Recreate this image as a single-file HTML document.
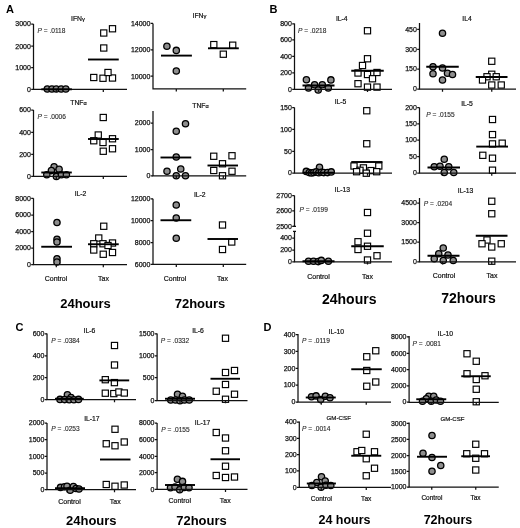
<!DOCTYPE html>
<html lang="en">
<head>
<meta charset="utf-8">
<title>Cytokine production: Control vs Tax</title>
<style>
html,body{margin:0;padding:0;background:#fff;}
body{width:520px;height:528px;overflow:hidden;}
svg{display:block;filter:blur(0.4px);font-family:"Liberation Sans",Arial,Helvetica,sans-serif;}
.ax{fill:none;stroke:#111;stroke-width:1.25;}
.md{fill:none;stroke:#000;stroke-width:1.9;}
.c{fill:#8e8e8e;stroke:#000;stroke-width:1.3;}
.s{fill:#fff;stroke:#000;stroke-width:1.15;}
.tk{font-size:7.0px;fill:#111;text-anchor:end;stroke:#111;stroke-width:0.25;}
.tt{font-size:6.8px;fill:#111;text-anchor:middle;stroke:#111;stroke-width:0.2;}
.pv{font-size:6.6px;fill:#2a2a2a;stroke:#2a2a2a;stroke-width:0.12;}
.xl{font-size:7px;fill:#111;text-anchor:middle;stroke:#111;stroke-width:0.2;}
.pl{font-size:11px;font-weight:bold;fill:#000;}
.bg{font-weight:bold;fill:#000;text-anchor:middle;}
</style>
</head>
<body>
<svg width="520" height="528" viewBox="0 0 520 528">
<rect width="520" height="528" fill="#fff"/>
<g>
<text class="tk" x="30.9" y="26.4">3000</text>
<text class="tk" x="30.9" y="48.5">2000</text>
<text class="tk" x="30.9" y="70.1">1000</text>
<text class="tk" x="30.9" y="91.7">0</text>
<text class="tt" x="78" y="20.5">IFN<tspan font-size="5.9">γ</tspan></text>
<text class="pv" x="37.5" y="33"><tspan font-style="italic">P</tspan> = .0118</text>
<circle class="c" cx="47.3" cy="89" r="3.15"/>
<circle class="c" cx="51.9" cy="89" r="3.15"/>
<circle class="c" cx="56.3" cy="89" r="3.15"/>
<circle class="c" cx="61.2" cy="89" r="3.15"/>
<circle class="c" cx="65.8" cy="89" r="3.15"/>
<rect class="s" x="100.65" y="29.9" width="6.2" height="6.2"/>
<rect class="s" x="109.4" y="25.65" width="6.2" height="6.2"/>
<rect class="s" x="100.65" y="44.9" width="6.2" height="6.2"/>
<rect class="s" x="90.65" y="74.4" width="6.2" height="6.2"/>
<rect class="s" x="99.9" y="75.15" width="6.2" height="6.2"/>
<rect class="s" x="109.4" y="74.9" width="6.2" height="6.2"/>
<rect class="s" x="104.9" y="69.4" width="6.2" height="6.2"/>
<path class="ax" d="M33.5 24V89.3H127"/>
<path class="ax" d="M31.2 24h2.3M31.2 46.1h2.3M31.2 67.7h2.3M31.2 89.3h2.3M56.3 89.3v2.7M103.3 89.3v2.7"/>
<path class="md" d="M41.3 89.3H71.9"/>
<path class="md" d="M88 59.5H118.75"/>
</g>
<g>
<text class="tk" x="150.4" y="25.8">14000</text>
<text class="tk" x="150.4" y="52.2">12000</text>
<text class="tk" x="150.4" y="78.6">10000</text>
<text class="tt" x="199.5" y="18">IFN<tspan font-size="5.9">γ</tspan></text>
<circle class="c" cx="166.9" cy="46.3" r="3.15"/>
<circle class="c" cx="176.3" cy="50.4" r="3.15"/>
<circle class="c" cx="176.3" cy="71" r="3.15"/>
<rect class="s" x="210.7" y="41.5" width="6.2" height="6.2"/>
<rect class="s" x="229.6" y="42.1" width="6.2" height="6.2"/>
<rect class="s" x="220.2" y="51.1" width="6.2" height="6.2"/>
<path class="ax" d="M153 23.4V88.9H246.2"/>
<path class="ax" d="M150.7 23.4h2.3M150.7 49.8h2.3M150.7 76.2h2.3M176.3 88.9v2.7M223.3 88.9v2.7"/>
<path class="md" d="M161 55.6H191.9"/>
<path class="md" d="M208 48.3H238.8"/>
</g>
<g>
<text class="tk" x="30.9" y="112.4">600</text>
<text class="tk" x="30.9" y="134.7">400</text>
<text class="tk" x="30.9" y="156.7">200</text>
<text class="tk" x="30.9" y="178.7">0</text>
<text class="tt" x="78.5" y="105">TNF<tspan font-size="5.6">α</tspan></text>
<text class="pv" x="37.5" y="118.8"><tspan font-style="italic">P</tspan> = .0006</text>
<circle class="c" cx="54.1" cy="166.8" r="3.15"/>
<circle class="c" cx="59.1" cy="169.3" r="3.15"/>
<circle class="c" cx="51.4" cy="170.6" r="3.15"/>
<circle class="c" cx="46.8" cy="174.8" r="3.15"/>
<circle class="c" cx="56.4" cy="176.4" r="3.15"/>
<circle class="c" cx="61.4" cy="174.8" r="3.15"/>
<circle class="c" cx="66.4" cy="174.8" r="3.15"/>
<rect class="s" x="100.15" y="114.4" width="6.2" height="6.2"/>
<rect class="s" x="95.15" y="131.9" width="6.2" height="6.2"/>
<rect class="s" x="90.65" y="137.65" width="6.2" height="6.2"/>
<rect class="s" x="99.9" y="139.4" width="6.2" height="6.2"/>
<rect class="s" x="109.4" y="135.65" width="6.2" height="6.2"/>
<rect class="s" x="109.4" y="145.65" width="6.2" height="6.2"/>
<rect class="s" x="100.15" y="148.15" width="6.2" height="6.2"/>
<path class="ax" d="M33.5 110V176.3H127"/>
<path class="ax" d="M31.2 110h2.3M31.2 132.3h2.3M31.2 154.3h2.3M31.2 176.3h2.3M56.3 176.3v2.7M103.3 176.3v2.7"/>
<path class="md" d="M41.3 172.5H71.8"/>
<path class="md" d="M88 139H118.75"/>
</g>
<g>
<text class="tk" x="150.4" y="125.4">2000</text>
<text class="tk" x="150.4" y="151.9">1000</text>
<text class="tk" x="150.4" y="178.2">0</text>
<text class="tt" x="200.5" y="107.5">TNF<tspan font-size="5.6">α</tspan></text>
<circle class="c" cx="185.5" cy="123.75" r="3.15"/>
<circle class="c" cx="176.25" cy="131.25" r="3.15"/>
<circle class="c" cx="176.25" cy="157" r="3.15"/>
<circle class="c" cx="167" cy="171.25" r="3.15"/>
<circle class="c" cx="180.75" cy="169" r="3.15"/>
<circle class="c" cx="176.25" cy="175.75" r="3.15"/>
<circle class="c" cx="185.5" cy="175.75" r="3.15"/>
<rect class="s" x="210.65" y="153.15" width="6.2" height="6.2"/>
<rect class="s" x="228.9" y="152.65" width="6.2" height="6.2"/>
<rect class="s" x="219.4" y="160.65" width="6.2" height="6.2"/>
<rect class="s" x="210.65" y="167.4" width="6.2" height="6.2"/>
<rect class="s" x="228.9" y="168.15" width="6.2" height="6.2"/>
<rect class="s" x="219.4" y="172.65" width="6.2" height="6.2"/>
<path class="ax" d="M153 111V175.8H246.2"/>
<path class="ax" d="M150.7 123h2.3M150.7 149.5h2.3M150.7 175.8h2.3M176.3 175.8v2.7M223.3 175.8v2.7"/>
<path class="md" d="M160.5 157.5H191.25"/>
<path class="md" d="M207.5 165.5H238"/>
</g>
<g>
<text class="tk" x="30.9" y="200.7">8000</text>
<text class="tk" x="30.9" y="217.4">6000</text>
<text class="tk" x="30.9" y="234">4000</text>
<text class="tk" x="30.9" y="250.4">2000</text>
<text class="tk" x="30.9" y="266.9">0</text>
<text class="tt" x="80.5" y="196">IL-2</text>
<circle class="c" cx="57" cy="222.5" r="3.15"/>
<circle class="c" cx="57" cy="239.25" r="3.15"/>
<circle class="c" cx="57" cy="242" r="3.15"/>
<circle class="c" cx="57" cy="258.75" r="3.15"/>
<circle class="c" cx="57" cy="262" r="3.15"/>
<rect class="s" x="100.65" y="223.15" width="6.2" height="6.2"/>
<rect class="s" x="95.65" y="234.9" width="6.2" height="6.2"/>
<rect class="s" x="90.65" y="240.65" width="6.2" height="6.2"/>
<rect class="s" x="99.9" y="240.65" width="6.2" height="6.2"/>
<rect class="s" x="109.4" y="239.9" width="6.2" height="6.2"/>
<rect class="s" x="104.9" y="242.4" width="6.2" height="6.2"/>
<rect class="s" x="90.65" y="246.9" width="6.2" height="6.2"/>
<rect class="s" x="100.15" y="251.15" width="6.2" height="6.2"/>
<rect class="s" x="109.4" y="249.4" width="6.2" height="6.2"/>
<path class="ax" d="M33.5 198.3V264.5H127"/>
<path class="ax" d="M31.2 198.3h2.3M31.2 215h2.3M31.2 231.6h2.3M31.2 248h2.3M31.2 264.5h2.3M56.3 264.5v2.7M103.3 264.5v2.7"/>
<path class="md" d="M41.25 246.75H72"/>
<path class="md" d="M88 244.25H118.75"/>
<text class="xl" x="56" y="281.2">Control</text>
<text class="xl" x="103.5" y="281.2">Tax</text>
</g>
<g>
<text class="tk" x="150.4" y="201.15">12000</text>
<text class="tk" x="150.4" y="222.9">10000</text>
<text class="tk" x="150.4" y="244.9">8000</text>
<text class="tk" x="150.4" y="266.65">6000</text>
<text class="tt" x="199.75" y="197">IL-2</text>
<circle class="c" cx="176.25" cy="205" r="3.15"/>
<circle class="c" cx="176.25" cy="218" r="3.15"/>
<circle class="c" cx="176.25" cy="238.25" r="3.15"/>
<rect class="s" x="219.4" y="221.9" width="6.2" height="6.2"/>
<rect class="s" x="228.65" y="238.9" width="6.2" height="6.2"/>
<rect class="s" x="219.4" y="246.4" width="6.2" height="6.2"/>
<path class="ax" d="M153 198.75V264.25H246.2"/>
<path class="ax" d="M150.7 198.75h2.3M150.7 220.5h2.3M150.7 242.5h2.3M150.7 264.25h2.3M176.3 264.25v2.7M223.3 264.25v2.7"/>
<path class="md" d="M160.5 220.25H191.25"/>
<path class="md" d="M207.5 239H238"/>
<text class="xl" x="175" y="281.2">Control</text>
<text class="xl" x="222.5" y="281.2">Tax</text>
</g>
<g>
<text class="tk" x="291.9" y="26.15">800</text>
<text class="tk" x="291.9" y="42.15">600</text>
<text class="tk" x="291.9" y="58.65">400</text>
<text class="tk" x="291.9" y="75.15">200</text>
<text class="tk" x="291.9" y="91.65">0</text>
<text class="tt" x="341.75" y="20.5">IL-4</text>
<text class="pv" x="298" y="33"><tspan font-style="italic">P</tspan> = .0218</text>
<circle class="c" cx="306.4" cy="79.8" r="3.15"/>
<circle class="c" cx="330.9" cy="79.9" r="3.15"/>
<circle class="c" cx="308.5" cy="88" r="3.15"/>
<circle class="c" cx="314.6" cy="84.8" r="3.15"/>
<circle class="c" cx="318.2" cy="90" r="3.15"/>
<circle class="c" cx="322.3" cy="84.8" r="3.15"/>
<circle class="c" cx="328.3" cy="88" r="3.15"/>
<rect class="s" x="364.4" y="27.65" width="6.2" height="6.2"/>
<rect class="s" x="364.4" y="55.65" width="6.2" height="6.2"/>
<rect class="s" x="359.4" y="62.4" width="6.2" height="6.2"/>
<rect class="s" x="354.9" y="69.9" width="6.2" height="6.2"/>
<rect class="s" x="364.4" y="71.4" width="6.2" height="6.2"/>
<rect class="s" x="373.9" y="69.4" width="6.2" height="6.2"/>
<rect class="s" x="369.4" y="75.65" width="6.2" height="6.2"/>
<rect class="s" x="354.9" y="80.6" width="6.2" height="6.2"/>
<rect class="s" x="364.4" y="84" width="6.2" height="6.2"/>
<rect class="s" x="373.9" y="84" width="6.2" height="6.2"/>
<path class="ax" d="M294.5 23.5V89.25H392"/>
<path class="ax" d="M292.2 23.75h2.3M292.2 39.75h2.3M292.2 56.25h2.3M292.2 72.75h2.3M292.2 89.25h2.3M318.75 89.25v2.7M367.5 89.25v2.7"/>
<path class="md" d="M302.5 85.5H334.5"/>
<path class="md" d="M351.25 70.75H383.75"/>
</g>
<g>
<text class="tk" x="416.9" y="31.65">450</text>
<text class="tk" x="416.9" y="51.65">300</text>
<text class="tk" x="416.9" y="71.4">150</text>
<text class="tk" x="416.9" y="91.4">0</text>
<text class="tt" x="467" y="21.25">IL4</text>
<circle class="c" cx="442.5" cy="33.25" r="3.15"/>
<circle class="c" cx="433" cy="66.75" r="3.15"/>
<circle class="c" cx="442.5" cy="68" r="3.15"/>
<circle class="c" cx="433" cy="73.75" r="3.15"/>
<circle class="c" cx="447.5" cy="73.25" r="3.15"/>
<circle class="c" cx="452.5" cy="74.5" r="3.15"/>
<circle class="c" cx="442.5" cy="80" r="3.15"/>
<rect class="s" x="488.65" y="58.15" width="6.2" height="6.2"/>
<rect class="s" x="488.65" y="71.15" width="6.2" height="6.2"/>
<rect class="s" x="483.9" y="73.65" width="6.2" height="6.2"/>
<rect class="s" x="493.15" y="73.65" width="6.2" height="6.2"/>
<rect class="s" x="479.4" y="76.9" width="6.2" height="6.2"/>
<rect class="s" x="488.65" y="81.9" width="6.2" height="6.2"/>
<rect class="s" x="498.15" y="81.9" width="6.2" height="6.2"/>
<path class="ax" d="M419.5 23V89H516"/>
<path class="ax" d="M417.2 29.25h2.3M417.2 49.25h2.3M417.2 69h2.3M417.2 89h2.3M442.5 89v2.7M491.75 89v2.7"/>
<path class="md" d="M426.25 66.75H458.75"/>
<path class="md" d="M475.75 77H507.5"/>
</g>
<g>
<text class="tk" x="291.9" y="109.9">150</text>
<text class="tk" x="291.9" y="131.65">100</text>
<text class="tk" x="291.9" y="153.65">50</text>
<text class="tk" x="291.9" y="175.4">0</text>
<text class="tt" x="340.5" y="103.75">IL-5</text>
<circle class="c" cx="319.5" cy="167.2" r="3.15"/>
<circle class="c" cx="306.25" cy="171.4" r="3.15"/>
<circle class="c" cx="309.25" cy="172.6" r="3.15"/>
<circle class="c" cx="311.6" cy="172.9" r="3.15"/>
<circle class="c" cx="313.75" cy="172.5" r="3.15"/>
<circle class="c" cx="316.2" cy="171.9" r="3.15"/>
<circle class="c" cx="318.75" cy="172.7" r="3.15"/>
<circle class="c" cx="321.4" cy="172.3" r="3.15"/>
<circle class="c" cx="323.75" cy="172.6" r="3.15"/>
<circle class="c" cx="327.5" cy="172.6" r="3.15"/>
<circle class="c" cx="331.25" cy="171.9" r="3.15"/>
<rect class="s" x="363.65" y="107.65" width="6.2" height="6.2"/>
<rect class="s" x="363.65" y="140.65" width="6.2" height="6.2"/>
<rect class="s" x="350.9" y="162.9" width="6.2" height="6.2"/>
<rect class="s" x="375.7" y="162.9" width="6.2" height="6.2"/>
<rect class="s" x="360.3" y="164.8" width="6.2" height="6.2"/>
<rect class="s" x="356.9" y="167.2" width="6.2" height="6.2"/>
<rect class="s" x="367.9" y="167.5" width="6.2" height="6.2"/>
<rect class="s" x="353.5" y="168.6" width="6.2" height="6.2"/>
<rect class="s" x="363.2" y="170.1" width="6.2" height="6.2"/>
<rect class="s" x="373.6" y="168.6" width="6.2" height="6.2"/>
<path class="ax" d="M294.5 107.5V173H392"/>
<path class="ax" d="M292.2 107.5h2.3M292.2 129.25h2.3M292.2 151.25h2.3M292.2 173h2.3M318.75 173v2.7M367.5 173v2.7"/>
<path class="md" d="M302.5 172.6H334.5"/>
<path class="md" d="M351.25 162H382.5"/>
</g>
<g>
<text class="tk" x="416.9" y="109.9">200</text>
<text class="tk" x="416.9" y="126.15">150</text>
<text class="tk" x="416.9" y="142.4">100</text>
<text class="tk" x="416.9" y="159">50</text>
<text class="tk" x="416.9" y="175.4">0</text>
<text class="tt" x="467" y="106.25">IL-5</text>
<text class="pv" x="426.25" y="117"><tspan font-style="italic">P</tspan> = .0155</text>
<circle class="c" cx="444.25" cy="159.25" r="3.15"/>
<circle class="c" cx="434.25" cy="166.75" r="3.15"/>
<circle class="c" cx="440" cy="166.25" r="3.15"/>
<circle class="c" cx="448.75" cy="166.75" r="3.15"/>
<circle class="c" cx="444.25" cy="172.5" r="3.15"/>
<circle class="c" cx="453.75" cy="172.5" r="3.15"/>
<rect class="s" x="489.4" y="116.4" width="6.2" height="6.2"/>
<rect class="s" x="489.4" y="131.5" width="6.2" height="6.2"/>
<rect class="s" x="489.4" y="140.8" width="6.2" height="6.2"/>
<rect class="s" x="499.1" y="140.1" width="6.2" height="6.2"/>
<rect class="s" x="479.7" y="152.2" width="6.2" height="6.2"/>
<rect class="s" x="489.4" y="155.1" width="6.2" height="6.2"/>
<rect class="s" x="489.4" y="167.1" width="6.2" height="6.2"/>
<path class="ax" d="M419.5 107.5V173H516"/>
<path class="ax" d="M417.2 107.5h2.3M417.2 123.75h2.3M417.2 140h2.3M417.2 156.6h2.3M417.2 173h2.3M442.5 173v2.7M491.75 173v2.7"/>
<path class="md" d="M427.5 167.5H460"/>
<path class="md" d="M476.25 146.6H508"/>
</g>
<g>
<text class="tk" x="291.9" y="197.9">2700</text>
<text class="tk" x="291.9" y="213.15">2600</text>
<text class="tk" x="291.9" y="228.65">2500</text>
<text class="tk" x="291.9" y="240.4">400</text>
<text class="tk" x="291.9" y="252.4">200</text>
<text class="tk" x="291.9" y="264.15">0</text>
<text class="tt" x="342.25" y="192">IL-13</text>
<text class="pv" x="299.5" y="212"><tspan font-style="italic">P</tspan> = .0199</text>
<circle class="c" cx="308.5" cy="261.3" r="3.15"/>
<circle class="c" cx="313.5" cy="261.3" r="3.15"/>
<circle class="c" cx="318.2" cy="261.6" r="3.15"/>
<circle class="c" cx="321.3" cy="260.4" r="3.15"/>
<circle class="c" cx="328.4" cy="261.3" r="3.15"/>
<rect class="s" x="364.4" y="209.4" width="6.2" height="6.2"/>
<rect class="s" x="364.4" y="230.15" width="6.2" height="6.2"/>
<rect class="s" x="354.9" y="238.65" width="6.2" height="6.2"/>
<rect class="s" x="354.9" y="246.4" width="6.2" height="6.2"/>
<rect class="s" x="364.4" y="243.15" width="6.2" height="6.2"/>
<rect class="s" x="373.9" y="252.65" width="6.2" height="6.2"/>
<rect class="s" x="364.4" y="256.9" width="6.2" height="6.2"/>
<path class="ax" d="M294.5 195.5V226.25M294.5 231.25V261.75H392"/>
<path class="ax" d="M293 226.25h3M293 231.25h3"/>
<path class="ax" d="M292.2 195.5h2.3M292.2 210.75h2.3M292.2 226.25h2.3M292.2 238h2.3M292.2 250h2.3M292.2 261.75h2.3M318.75 261.75v2.7M367.5 261.75v2.7"/>
<path class="md" d="M302.5 261.25H334.5"/>
<path class="md" d="M351.25 246.25H383.75"/>
<text class="xl" x="318.5" y="278.8">Control</text>
<text class="xl" x="367.5" y="278.8">Tax</text>
</g>
<g>
<text class="tk" x="416.9" y="205.4">4500</text>
<text class="tk" x="416.9" y="224.9">3000</text>
<text class="tk" x="416.9" y="244.4">1500</text>
<text class="tk" x="416.9" y="264.15">0</text>
<text class="tt" x="465.6" y="193.25">IL-13</text>
<text class="pv" x="423.75" y="206.25"><tspan font-style="italic">P</tspan> = .0204</text>
<circle class="c" cx="443.25" cy="248" r="3.15"/>
<circle class="c" cx="438.75" cy="253.75" r="3.15"/>
<circle class="c" cx="448" cy="255" r="3.15"/>
<circle class="c" cx="434.25" cy="258.75" r="3.15"/>
<circle class="c" cx="443.25" cy="260.5" r="3.15"/>
<circle class="c" cx="453.25" cy="260.5" r="3.15"/>
<rect class="s" x="488.65" y="198.15" width="6.2" height="6.2"/>
<rect class="s" x="488.65" y="210.65" width="6.2" height="6.2"/>
<rect class="s" x="483.9" y="236.9" width="6.2" height="6.2"/>
<rect class="s" x="478.9" y="240.65" width="6.2" height="6.2"/>
<rect class="s" x="498.15" y="240.65" width="6.2" height="6.2"/>
<rect class="s" x="488.65" y="243.9" width="6.2" height="6.2"/>
<rect class="s" x="488.65" y="258.1" width="6.2" height="6.2"/>
<path class="ax" d="M419.5 198V261.75H516"/>
<path class="ax" d="M417.2 203h2.3M417.2 222.5h2.3M417.2 242h2.3M417.2 261.75h2.3M442.5 261.75v2.7M491.75 261.75v2.7"/>
<path class="md" d="M427.5 255.75H459.5"/>
<path class="md" d="M475.75 235.75H507.5"/>
<text class="xl" x="444" y="277.5">Control</text>
<text class="xl" x="492" y="277.5">Tax</text>
</g>
<g>
<text class="tk" x="44.4" y="336.15">600</text>
<text class="tk" x="44.4" y="358.15">400</text>
<text class="tk" x="44.4" y="379.9">200</text>
<text class="tk" x="44.4" y="401.9">0</text>
<text class="tt" x="89.4" y="333">IL-6</text>
<text class="pv" x="51.25" y="343"><tspan font-style="italic">P</tspan> = .0384</text>
<circle class="c" cx="67.4" cy="394.8" r="3.15"/>
<circle class="c" cx="71" cy="397.5" r="3.15"/>
<circle class="c" cx="60" cy="399.4" r="3.15"/>
<circle class="c" cx="64.6" cy="399.6" r="3.15"/>
<circle class="c" cx="69.2" cy="399.8" r="3.15"/>
<circle class="c" cx="73.9" cy="399.8" r="3.15"/>
<circle class="c" cx="78.5" cy="399.4" r="3.15"/>
<rect class="s" x="111.4" y="342.4" width="6.2" height="6.2"/>
<rect class="s" x="111.4" y="361.9" width="6.2" height="6.2"/>
<rect class="s" x="102.2" y="376.6" width="6.2" height="6.2"/>
<rect class="s" x="111.3" y="379.5" width="6.2" height="6.2"/>
<rect class="s" x="102.2" y="390.1" width="6.2" height="6.2"/>
<rect class="s" x="110.7" y="390.5" width="6.2" height="6.2"/>
<rect class="s" x="115.8" y="388.9" width="6.2" height="6.2"/>
<rect class="s" x="121.2" y="389.9" width="6.2" height="6.2"/>
<path class="ax" d="M47 333.5V399.5H136"/>
<path class="ax" d="M44.7 333.75h2.3M44.7 355.75h2.3M44.7 377.5h2.3M44.7 399.5h2.3M67 399.5v2.7M114.5 399.5v2.7"/>
<path class="md" d="M55 398.75H83.75"/>
<path class="md" d="M99.4 380.4H129.2"/>
</g>
<g>
<text class="tk" x="154.5" y="336.15">1500</text>
<text class="tk" x="154.5" y="358.15">1000</text>
<text class="tk" x="154.5" y="379.9">500</text>
<text class="tk" x="154.5" y="402.9">0</text>
<text class="tt" x="198" y="333">IL-6</text>
<text class="pv" x="160.75" y="343"><tspan font-style="italic">P</tspan> = .0332</text>
<circle class="c" cx="177.5" cy="394.25" r="3.15"/>
<circle class="c" cx="182.5" cy="396.25" r="3.15"/>
<circle class="c" cx="170.75" cy="400" r="3.15"/>
<circle class="c" cx="175.5" cy="400" r="3.15"/>
<circle class="c" cx="180" cy="400.75" r="3.15"/>
<circle class="c" cx="184.5" cy="400" r="3.15"/>
<circle class="c" cx="189.25" cy="400" r="3.15"/>
<rect class="s" x="222.4" y="335.15" width="6.2" height="6.2"/>
<rect class="s" x="222.4" y="369.4" width="6.2" height="6.2"/>
<rect class="s" x="231.4" y="367.4" width="6.2" height="6.2"/>
<rect class="s" x="222.4" y="381.4" width="6.2" height="6.2"/>
<rect class="s" x="213.15" y="388.15" width="6.2" height="6.2"/>
<rect class="s" x="231.4" y="391.15" width="6.2" height="6.2"/>
<rect class="s" x="222.4" y="396.15" width="6.2" height="6.2"/>
<path class="ax" d="M157.1 333.5V400.5H247.5"/>
<path class="ax" d="M154.8 333.75h2.3M154.8 355.75h2.3M154.8 377.5h2.3M154.8 400.5h2.3M180 400.5v2.7M225.5 400.5v2.7"/>
<path class="md" d="M165 398.75H195"/>
<path class="md" d="M210.5 378.75H240"/>
</g>
<g>
<text class="tk" x="44.4" y="425.4">2000</text>
<text class="tk" x="44.4" y="441.9">1500</text>
<text class="tk" x="44.4" y="458.65">1000</text>
<text class="tk" x="44.4" y="475.4">500</text>
<text class="tk" x="44.4" y="491.9">0</text>
<text class="tt" x="91.9" y="420.75">IL-17</text>
<text class="pv" x="51.25" y="431.25"><tspan font-style="italic">P</tspan> = .0253</text>
<circle class="c" cx="60.5" cy="487.4" r="3.15"/>
<circle class="c" cx="64.5" cy="486.8" r="3.15"/>
<circle class="c" cx="67" cy="486.2" r="3.15"/>
<circle class="c" cx="70.2" cy="490.2" r="3.15"/>
<circle class="c" cx="73.4" cy="486.5" r="3.15"/>
<circle class="c" cx="76" cy="488.5" r="3.15"/>
<circle class="c" cx="79" cy="489" r="3.15"/>
<rect class="s" x="111.9" y="426.15" width="6.2" height="6.2"/>
<rect class="s" x="103.15" y="440.65" width="6.2" height="6.2"/>
<rect class="s" x="111.9" y="442.65" width="6.2" height="6.2"/>
<rect class="s" x="121.15" y="438.9" width="6.2" height="6.2"/>
<rect class="s" x="103.15" y="481.4" width="6.2" height="6.2"/>
<rect class="s" x="111.9" y="483.15" width="6.2" height="6.2"/>
<rect class="s" x="121.15" y="481.9" width="6.2" height="6.2"/>
<path class="ax" d="M47 423V489.5H136"/>
<path class="ax" d="M44.7 423h2.3M44.7 439.5h2.3M44.7 456.25h2.3M44.7 473h2.3M44.7 489.5h2.3M67 489.5v2.7M114.5 489.5v2.7"/>
<path class="md" d="M55 488.2H85"/>
<path class="md" d="M100 459.5H130.5"/>
<text class="xl" x="69.5" y="503.7">Control</text>
<text class="xl" x="115.25" y="503.7">Tax</text>
</g>
<g>
<text class="tk" x="154.5" y="425.4">8000</text>
<text class="tk" x="154.5" y="441.9">6000</text>
<text class="tk" x="154.5" y="458.65">4000</text>
<text class="tk" x="154.5" y="474.9">2000</text>
<text class="tk" x="154.5" y="491.65">0</text>
<text class="tt" x="202.5" y="424.5">IL-17</text>
<text class="pv" x="161.25" y="431.75"><tspan font-style="italic">P</tspan> = .0155</text>
<circle class="c" cx="177.4" cy="479.2" r="3.15"/>
<circle class="c" cx="182.5" cy="481.4" r="3.15"/>
<circle class="c" cx="170.5" cy="487.8" r="3.15"/>
<circle class="c" cx="175" cy="487" r="3.15"/>
<circle class="c" cx="179.7" cy="489.7" r="3.15"/>
<circle class="c" cx="184.3" cy="487.4" r="3.15"/>
<circle class="c" cx="189" cy="487.8" r="3.15"/>
<rect class="s" x="213.15" y="429.4" width="6.2" height="6.2"/>
<rect class="s" x="222.4" y="434.9" width="6.2" height="6.2"/>
<rect class="s" x="222.4" y="447.65" width="6.2" height="6.2"/>
<rect class="s" x="222.4" y="463.15" width="6.2" height="6.2"/>
<rect class="s" x="213.15" y="472.4" width="6.2" height="6.2"/>
<rect class="s" x="222.4" y="474.4" width="6.2" height="6.2"/>
<rect class="s" x="231.4" y="473.9" width="6.2" height="6.2"/>
<path class="ax" d="M157.1 423V489.25H247.5"/>
<path class="ax" d="M154.8 423h2.3M154.8 439.5h2.3M154.8 456.25h2.3M154.8 472.5h2.3M154.8 489.25h2.3M180 489.25v2.7M225.5 489.25v2.7"/>
<path class="md" d="M165 485H195"/>
<path class="md" d="M210.5 459.25H240"/>
<text class="xl" x="179.75" y="502.5">Control</text>
<text class="xl" x="225.25" y="502.5">Tax</text>
</g>
<g>
<text class="tk" x="295.4" y="336.9">400</text>
<text class="tk" x="295.4" y="353.65">300</text>
<text class="tk" x="295.4" y="370.65">200</text>
<text class="tk" x="295.4" y="387.4">100</text>
<text class="tk" x="295.4" y="404.4">0</text>
<text class="tt" x="336.25" y="333.75">IL-10</text>
<text class="pv" x="302" y="343.25"><tspan font-style="italic">P</tspan> = .0119</text>
<circle class="c" cx="311.5" cy="396.7" r="3.15"/>
<circle class="c" cx="316.1" cy="395.9" r="3.15"/>
<circle class="c" cx="320.7" cy="399.6" r="3.15"/>
<circle class="c" cx="325.3" cy="396.2" r="3.15"/>
<circle class="c" cx="330" cy="397.8" r="3.15"/>
<rect class="s" x="372.65" y="347.65" width="6.2" height="6.2"/>
<rect class="s" x="363.65" y="353.65" width="6.2" height="6.2"/>
<rect class="s" x="363.65" y="367.4" width="6.2" height="6.2"/>
<rect class="s" x="372.65" y="378.9" width="6.2" height="6.2"/>
<rect class="s" x="363.65" y="383.15" width="6.2" height="6.2"/>
<path class="ax" d="M298 334V402H391"/>
<path class="ax" d="M295.7 334.5h2.3M295.7 351.25h2.3M295.7 368.25h2.3M295.7 385h2.3M295.7 402h2.3M321.25 402v2.7M366.25 402v2.7"/>
<path class="md" d="M305.75 397.5H335.75"/>
<path class="md" d="M351.25 369.25H381.75"/>
</g>
<g>
<text class="tk" x="406.5" y="339.15">8000</text>
<text class="tk" x="406.5" y="355.65">6000</text>
<text class="tk" x="406.5" y="371.9">4000</text>
<text class="tk" x="406.5" y="388.15">2000</text>
<text class="tk" x="406.5" y="404.4">0</text>
<text class="tt" x="445.25" y="335.5">IL-10</text>
<text class="pv" x="412.5" y="345.5"><tspan font-style="italic">P</tspan> = .0081</text>
<circle class="c" cx="428.75" cy="396.25" r="3.15"/>
<circle class="c" cx="433.75" cy="396.25" r="3.15"/>
<circle class="c" cx="426.25" cy="398.75" r="3.15"/>
<circle class="c" cx="422.5" cy="401.25" r="3.15"/>
<circle class="c" cx="431.25" cy="401.25" r="3.15"/>
<circle class="c" cx="436.25" cy="400" r="3.15"/>
<circle class="c" cx="440.5" cy="401.25" r="3.15"/>
<rect class="s" x="463.9" y="350.65" width="6.2" height="6.2"/>
<rect class="s" x="473.15" y="358.15" width="6.2" height="6.2"/>
<rect class="s" x="463.9" y="370.65" width="6.2" height="6.2"/>
<rect class="s" x="481.9" y="372.65" width="6.2" height="6.2"/>
<rect class="s" x="473.15" y="376.4" width="6.2" height="6.2"/>
<rect class="s" x="473.15" y="386.15" width="6.2" height="6.2"/>
<rect class="s" x="473.15" y="398.65" width="6.2" height="6.2"/>
<path class="ax" d="M409.1 336V402.3H498.75"/>
<path class="ax" d="M406.8 336.75h2.3M406.8 353.25h2.3M406.8 369.5h2.3M406.8 385.75h2.3M406.8 402h2.3M431.25 402.3v2.7M476.25 402.3v2.7"/>
<path class="md" d="M416.25 399.25H446.25"/>
<path class="md" d="M461.25 376.25H490.75"/>
</g>
<g>
<text class="tk" x="296.7" y="424.4">400</text>
<text class="tk" x="296.7" y="440.65">300</text>
<text class="tk" x="296.7" y="456.9">200</text>
<text class="tk" x="296.7" y="473.15">100</text>
<text class="tk" x="296.7" y="489.8">0</text>
<text class="tt" style="font-size:6.2px" x="338.75" y="419.5">GM-CSF</text>
<text class="pv" x="302" y="431.25"><tspan font-style="italic">P</tspan> = .0014</text>
<circle class="c" cx="321.5" cy="476.8" r="3.15"/>
<circle class="c" cx="325.2" cy="481" r="3.15"/>
<circle class="c" cx="316.8" cy="482.5" r="3.15"/>
<circle class="c" cx="311.9" cy="485.5" r="3.15"/>
<circle class="c" cx="321.1" cy="487.3" r="3.15"/>
<circle class="c" cx="326" cy="485.2" r="3.15"/>
<circle class="c" cx="330.8" cy="485.5" r="3.15"/>
<rect class="s" x="363.15" y="431.15" width="6.2" height="6.2"/>
<rect class="s" x="353.9" y="448.65" width="6.2" height="6.2"/>
<rect class="s" x="358.65" y="447.4" width="6.2" height="6.2"/>
<rect class="s" x="371.4" y="448.65" width="6.2" height="6.2"/>
<rect class="s" x="363.15" y="455.65" width="6.2" height="6.2"/>
<rect class="s" x="371.4" y="465.15" width="6.2" height="6.2"/>
<rect class="s" x="363.15" y="472.65" width="6.2" height="6.2"/>
<path class="ax" d="M299.3 421.5V487.4H391"/>
<path class="ax" d="M297 422h2.3M297 438.25h2.3M297 454.5h2.3M297 470.75h2.3M297 487.4h2.3M321.25 487.4v2.7M366.25 487.4v2.7"/>
<path class="md" d="M306.8 483.5H335.9"/>
<path class="md" d="M351.25 455.75H381.25"/>
<text class="xl" style="font-size:6.6px" x="321.4" y="501.2">Control</text>
<text class="xl" style="font-size:6.6px" x="366.25" y="501.2">Tax</text>
</g>
<g>
<text class="tk" x="406.5" y="425.65">3000</text>
<text class="tk" x="406.5" y="441.65">2500</text>
<text class="tk" x="406.5" y="457.9">2000</text>
<text class="tk" x="406.5" y="473.65">1500</text>
<text class="tk" x="406.5" y="489.4">1000</text>
<text class="tt" style="font-size:6.1px" x="452.5" y="421.25">GM-CSF</text>
<circle class="c" cx="432" cy="435.5" r="3.15"/>
<circle class="c" cx="423" cy="453.25" r="3.15"/>
<circle class="c" cx="432" cy="457.5" r="3.15"/>
<circle class="c" cx="440.75" cy="465.5" r="3.15"/>
<circle class="c" cx="432" cy="471.25" r="3.15"/>
<rect class="s" x="472.65" y="441.15" width="6.2" height="6.2"/>
<rect class="s" x="463.65" y="450.65" width="6.2" height="6.2"/>
<rect class="s" x="481.4" y="450.65" width="6.2" height="6.2"/>
<rect class="s" x="472.65" y="455.15" width="6.2" height="6.2"/>
<rect class="s" x="472.65" y="466.9" width="6.2" height="6.2"/>
<path class="ax" d="M409.1 422.5V487H498.75"/>
<path class="ax" d="M406.8 423.25h2.3M406.8 439.25h2.3M406.8 455.5h2.3M406.8 471.25h2.3M406.8 487h2.3M431.75 487v2.7M475.75 487v2.7"/>
<path class="md" d="M417 456.75H447"/>
<path class="md" d="M461.25 456.25H490"/>
<text class="xl" style="font-size:6.5px" x="431.9" y="499.5">Control</text>
<text class="xl" style="font-size:6.5px" x="475.5" y="499.5">Tax</text>
</g>
<text class="pl" x="6" y="13.2">A</text>
<text class="pl" x="269.5" y="13.2">B</text>
<text class="pl" x="15.5" y="331">C</text>
<text class="pl" x="263.5" y="330.7">D</text>
<text class="bg" x="85.5" y="307.5" font-size="13">24hours</text>
<text class="bg" x="200" y="307.5" font-size="13">72hours</text>
<text class="bg" x="349.2" y="304" font-size="14">24hours</text>
<text class="bg" x="468.5" y="303" font-size="14">72hours</text>
<text class="bg" x="91.3" y="525" font-size="13">24hours</text>
<text class="bg" x="201.5" y="525" font-size="13">72hours</text>
<text class="bg" x="344.5" y="524" font-size="12.5">24 hours</text>
<text class="bg" x="448" y="524" font-size="12.5">72hours</text>
</svg>
</body>
</html>
